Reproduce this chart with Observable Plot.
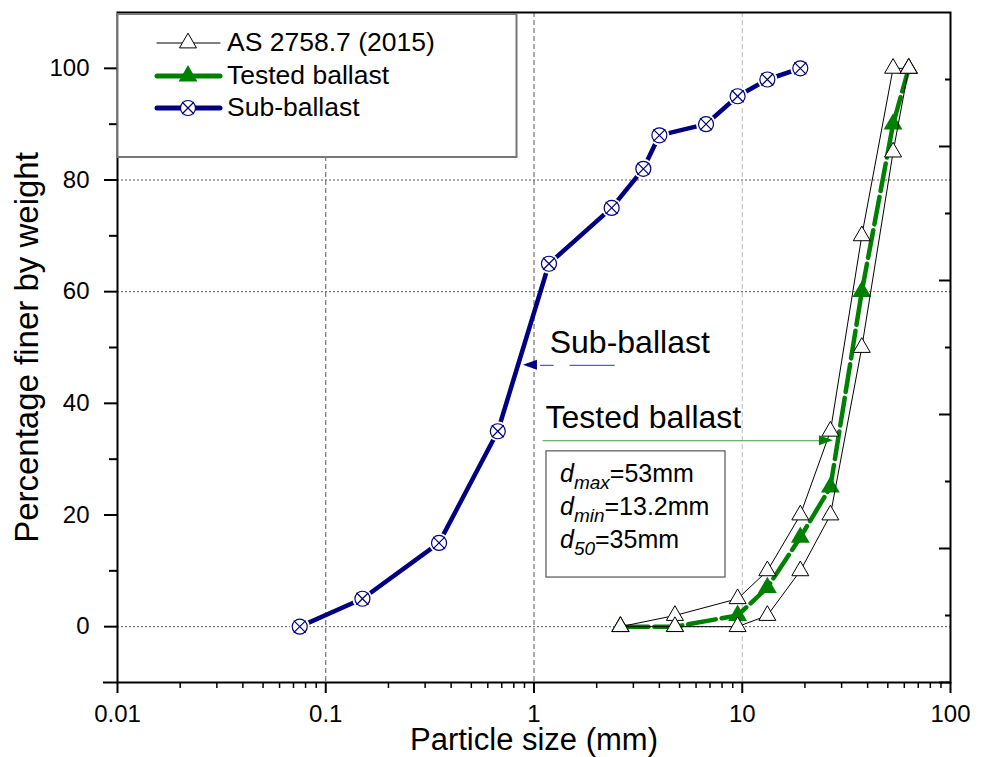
<!DOCTYPE html>
<html><head><meta charset="utf-8">
<script src="https://cdn.jsdelivr.net/npm/d3@7"></script>
<script src="https://cdn.jsdelivr.net/npm/@observablehq/plot@0.6"></script>
<style>
html,body{margin:0;padding:0;background:#fff;}
#chart{width:988px;height:757px;}
</style></head><body><div id="chart"></div>
<script>
// ---------- data ----------
const asSize   = [2.6, 4.75, 9.5, 13.2, 19, 26.5, 37.5, 53, 63];
const asUpper  = [0, 2, 5, 10, 20, 35, 70, 100, 100];
const asLower  = [0, 0, 0, 2, 10, 20, 50, 85, 100];
const ballastSize    = [2.6, 4.75, 9.5, 13.2, 19, 26.5, 37.5, 53, 63];
const ballastPassing = [0, 0, 2, 7, 16, 25, 60, 90, 100];
const subSize    = [0.075, 0.15, 0.35, 0.67, 1.18, 2.36, 3.35, 4.0, 6.7, 9.5, 13.2, 19];
const subPassing = [0, 5, 15, 35, 65, 75, 82, 88, 90, 95, 98, 100];

const xMajorTicks = [0.01, 0.1, 1, 10, 100];
const xTickLabels = ["0.01", "0.1", "1", "10", "100"];
const xMinorTicks = [];
[0.01, 0.1, 1, 10].forEach(b => { for (let k = 2; k <= 9; k++) xMinorTicks.push(+(b * k).toPrecision(3)); });
const yMajorTicks = [0, 20, 40, 60, 80, 100];
const yTickLabels = ["0", "20", "40", "60", "80", "100"];
const yMinorTicks = [10, 30, 50, 70, 90];
const yEdgeTicks  = [-10];
const rightMajorTicks = [-10, 14, 38, 62, 86];
const rightMinorTicks = [2, 26, 50, 74, 98];
const gridY = [0, 60, 80];
const gridXDark = [0.1, 1];
const gridXLight = [10];

const xTitle = "Particle size (mm)";
const yTitle = "Percentage finer by weight";
const legendLabels = ["AS 2758.7 (2015)", "Tested ballast", "Sub-ballast"];

const subNote = {text: "Sub-ballast", x: 1.19, y: 49.1};
const subArrow = {x1: 2.44, x2: 1.07, xTip: 0.89, y: 46.8};
const ballNote = {text: "Tested ballast", x: 1.136, y: 35.5};
const ballArrow = {x1: 1.1, x2: 24.5, xTip: 27.4, y: 33.3};
const infoBox = {x1: 1.148, x2: 8.31, y1: 31.4, y2: 8.8};
const infoLines = [
  {sub: "max", value: "=53mm", x: 1.34, y: 25.8},
  {sub: "min", value: "=13.2mm", x: 1.34, y: 19.9},
  {sub: "50", value: "=35mm", x: 1.34, y: 14.0}
];

// ---------- rows ----------
const asUpperRows = asSize.map((s, i) => ({size: s, pass: asUpper[i]}));
const asLowerRows = asSize.map((s, i) => ({size: s, pass: asLower[i]}));
const ballRows = ballastSize.map((s, i) => ({size: s, pass: ballastPassing[i]}));
const subRows = subSize.map((s, i) => ({size: s, pass: subPassing[i]}));

const NAVY = "#000080", GREEN = "#008000";
const FONT = "'Liberation Sans', Arial, Helvetica, sans-serif";
const blank = () => "";

const plot = Plot.plot({
  width: 988, height: 757,
  marginLeft: 117, marginRight: 38, marginTop: 12, marginBottom: 75,
  style: {fontFamily: FONT, fontSize: "24px", background: "white", color: "black"},
  x: {type: "log", domain: [0.01, 100]},
  y: {domain: [-10, 110]},
  marks: [
    Plot.ruleY(gridY, {stroke: "#555", strokeWidth: 1, strokeDasharray: "2,2"}),
    Plot.ruleX(gridXDark, {stroke: "#555", strokeWidth: 1, strokeDasharray: "5,3"}),
    Plot.ruleX(gridXLight, {stroke: "#bbb", strokeWidth: 1, strokeDasharray: "5,3"}),

    Plot.line(subRows, {x: "size", y: "pass", stroke: NAVY, strokeWidth: 4.5}),
    Plot.dot(subRows, {x: "size", y: "pass", r: 10, fill: "white", stroke: null}),

    Plot.line(ballRows, {x: "size", y: "pass", stroke: GREEN, strokeWidth: 4.5, strokeDasharray: "28,6"}),
    Plot.dot(ballRows, {x: "size", y: "pass", symbol: "triangle", r: 7, fill: GREEN, stroke: null}),

    Plot.line(asUpperRows, {x: "size", y: "pass", stroke: "black", strokeWidth: 1}),
    Plot.line(asLowerRows, {x: "size", y: "pass", stroke: "black", strokeWidth: 1}),
    Plot.dot(asUpperRows, {x: "size", y: "pass", symbol: "triangle", r: 6.3, fill: "white", stroke: "black", strokeWidth: 1}),
    Plot.dot(asLowerRows, {x: "size", y: "pass", symbol: "triangle", r: 6.3, fill: "white", stroke: "black", strokeWidth: 1}),

    Plot.dot(subRows, {x: "size", y: "pass", symbol: "circle", r: 7.5, fill: "white", stroke: NAVY, strokeWidth: 1.2}),
    Plot.dot(subRows, {x: "size", y: "pass", symbol: "times", r: 5.5, stroke: NAVY, strokeWidth: 1.2}),

    // annotations
    Plot.text([subNote], {x: "x", y: "y", text: "text", textAnchor: "start", lineAnchor: "bottom", fontSize: 32}),
    Plot.link([subArrow], {x1: "x1", x2: "x2", y1: "y", y2: "y", stroke: "#5a5ad2", strokeWidth: 1.2, strokeDasharray: "45,16"}),
    Plot.text([ballNote], {x: "x", y: "y", text: "text", textAnchor: "start", lineAnchor: "bottom", fontSize: 32}),
    Plot.link([ballArrow], {x1: "x1", x2: "x2", y1: "y", y2: "y", stroke: "#3c9c3c", strokeWidth: 1.2}),
    Plot.rect([infoBox], {x1: "x1", x2: "x2", y1: "y1", y2: "y2", fill: "white", stroke: "#555", strokeWidth: 1.2}),

    Plot.frame({stroke: "black", strokeWidth: 2}),

    Plot.axisX(xMajorTicks, {tickSize: 11, tickPadding: 11, strokeWidth: 2, tickFormat: d => xTickLabels[xMajorTicks.indexOf(d)], label: null, fontSize: 24}),
    Plot.axisX(xMinorTicks, {tickSize: 6, strokeWidth: 1.5, tickFormat: blank, label: null}),
    Plot.axisY(yMajorTicks, {tickSize: 13, tickPadding: 15, strokeWidth: 2, tickFormat: d => yTickLabels[yMajorTicks.indexOf(d)], label: null, fontSize: 24}),
    Plot.axisY(yMinorTicks, {tickSize: 8, strokeWidth: 2, tickFormat: blank, label: null}),
    Plot.axisY(yEdgeTicks, {tickSize: 14, strokeWidth: 2, tickFormat: blank, label: null}),
    Plot.axisY(rightMajorTicks, {anchor: "right", tickSize: 12, dx: -12, strokeWidth: 2, tickFormat: blank, label: null}),
    Plot.axisY(rightMinorTicks, {anchor: "right", tickSize: 6, dx: -6, strokeWidth: 2, tickFormat: blank, label: null}),

    Plot.text([xTitle], {frameAnchor: "bottom", dy: 67, lineAnchor: "bottom", fontSize: 31}),
    Plot.text([yTitle], {frameAnchor: "left", textAnchor: "middle", rotate: -90, dx: -80, lineAnchor: "bottom", fontSize: 33})
  ]
});
document.getElementById("chart").appendChild(plot);

// ---------- extra decorations using the plot's scales ----------
const sx = plot.scale("x"), sy = plot.scale("y");
const X = sx.apply ? v => sx.apply(v) : d3.scaleLog(sx.domain, sx.range);
const Y = sy.apply ? v => sy.apply(v) : d3.scaleLinear(sy.domain, sy.range);
const svg = d3.select(plot);
const deco = svg.append("g").attr("text-anchor", "start");

function head(xTip, yv, dir, color) {
  const tx = X(xTip), ty = Y(yv), L = 14, w = 5;
  deco.append("path")
    .attr("d", `M${tx},${ty}L${tx - dir * L},${ty - w}L${tx - dir * L},${ty + w}Z`)
    .attr("fill", color);
}
head(subArrow.xTip, subArrow.y, -1, NAVY);
head(ballArrow.xTip, ballArrow.y, 1, GREEN);

infoLines.forEach(l => {
  const t = deco.append("text").attr("x", X(l.x)).attr("y", Y(l.y)).attr("text-anchor", "start")
    .attr("font-family", FONT).attr("font-size", 25).attr("fill", "black");
  t.append("tspan").attr("font-style", "italic").text("d");
  t.append("tspan").attr("font-style", "italic").attr("font-size", 19).attr("dy", 7).text(l.sub);
  t.append("tspan").attr("dy", -7).text(l.value);
});

// legend
const lg = svg.append("g").attr("text-anchor", "start");
lg.append("rect").attr("x", 117.5).attr("y", 14).attr("width", 399).attr("height", 143)
  .attr("fill", "white").attr("stroke", "#777").attr("stroke-width", 2);
const rowsY = [43, 76, 108];
const styles = [
  {stroke: "black", sw: 1, sym: "tri", fill: "white", symStroke: "black", r: 6.3},
  {stroke: GREEN, sw: 5, sym: "tri", fill: GREEN, symStroke: "none", r: 7},
  {stroke: NAVY, sw: 5, sym: "cx", fill: "white", symStroke: NAVY, r: 7.5}
];
legendLabels.forEach((lab, i) => {
  const y = rowsY[i], s = styles[i];
  lg.append("line").attr("x1", 157).attr("x2", 220).attr("y1", y).attr("y2", y)
    .attr("stroke", s.stroke).attr("stroke-width", s.sw).attr("stroke-linecap", "round");
  if (s.sym === "tri") {
    lg.append("path").attr("transform", `translate(188,${y})`)
      .attr("d", d3.symbol(d3.symbolTriangle, Math.PI * s.r * s.r)())
      .attr("fill", s.fill).attr("stroke", s.symStroke);
  } else {
    lg.append("circle").attr("cx", 188).attr("cy", y).attr("r", s.r)
      .attr("fill", "white").attr("stroke", NAVY).attr("stroke-width", 1.2);
    lg.append("path").attr("transform", `translate(188,${y})`)
      .attr("d", d3.symbol(d3.symbolTimes, Math.PI * 5.5 * 5.5)())
      .attr("fill", "none").attr("stroke", NAVY).attr("stroke-width", 1.2);
  }
  lg.append("text").attr("x", 227).attr("y", y + 8).attr("text-anchor", "start").attr("font-family", FONT)
    .attr("font-size", 26.5).attr("fill", "black").text(lab);
});
</script></body></html>
